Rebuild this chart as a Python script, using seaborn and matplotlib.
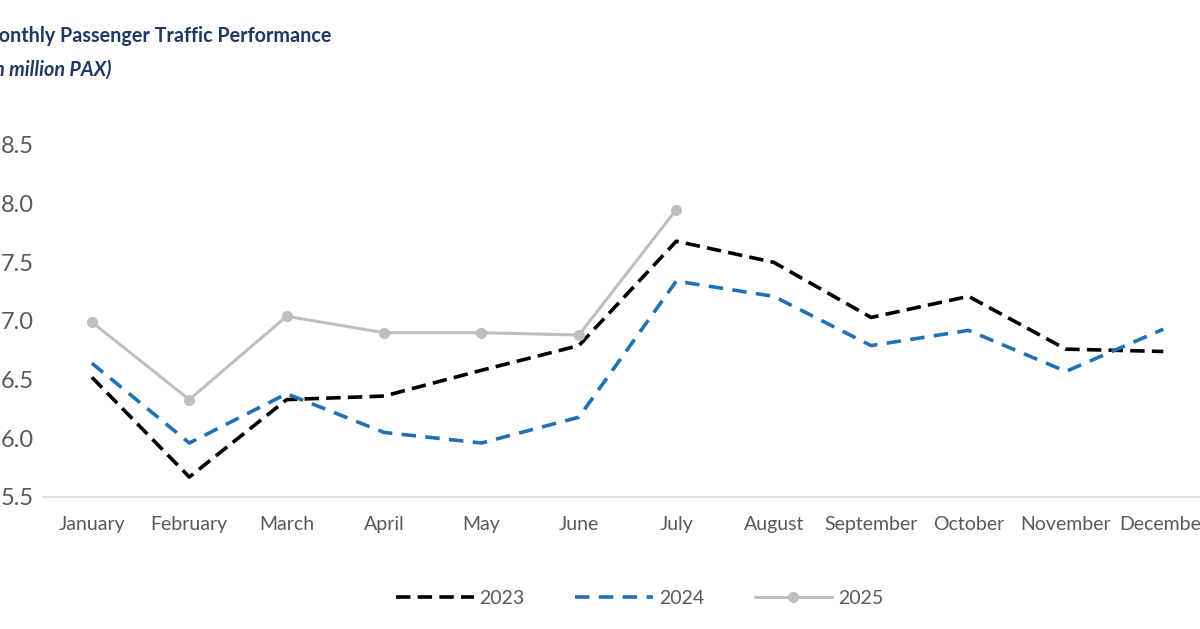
import numpy as np
import pandas as pd
import matplotlib
matplotlib.use("Agg")
import matplotlib.pyplot as plt
import seaborn as sns

# monthly passenger traffic, million PAX
months = ["January", "February", "March", "April", "May", "June",
          "July", "August", "September", "October", "November", "December"]
pax_2023 = [6.52, 5.67, 6.33, 6.36, 6.58, 6.79, 7.68, 7.50, 7.03, 7.21, 6.76, 6.74]
pax_2024 = [6.64, 5.96, 6.38, 6.05, 5.96, 6.18, 7.34, 7.21, 6.79, 6.92, 6.57, 6.93]
pax_2025 = [6.99, 6.33, 7.04, 6.90, 6.90, 6.88, 7.95]
y_ticks = [5.5, 6.0, 6.5, 7.0, 7.5, 8.0, 8.5]

sns.set_theme(style="white")
plt.rcParams['font.family'] = ['Lato', 'DejaVu Sans']

fig = plt.figure(figsize=(12, 6.29), dpi=100)
# axes is wider than the figure on the right, like the cropped screenshot
ax = fig.add_axes([0.036, 0.2099, 0.974, 0.5596])

df23 = pd.DataFrame({"month": months, "pax": pax_2023})
df24 = pd.DataFrame({"month": months, "pax": pax_2024})
df25 = pd.DataFrame({"month": months[:len(pax_2025)], "pax": pax_2025})

sns.lineplot(data=df23, x="month", y="pax", ax=ax, color="black",
             linewidth=2.6, label="2023", sort=False)
sns.lineplot(data=df24, x="month", y="pax", ax=ax, color="#2371B5",
             linewidth=2.6, label="2024", sort=False)
sns.lineplot(data=df25, x="month", y="pax", ax=ax, color="#BFBFBF",
             linewidth=2.2, marker="o", markersize=8, markeredgewidth=0,
             label="2025", sort=False)

lines = ax.get_lines()
lines[0].set_dashes((4, 2))
lines[1].set_dashes((4, 2.6))

ax.set_xlim(-0.5, 11.5)
ax.set_ylim(5.5, 8.5)
ax.set_yticks(y_ticks)
ax.set_yticklabels([f"{v:.1f}" for v in y_ticks])
ax.set_xlabel("")
ax.set_ylabel("")

for s in ["top", "right", "left"]:
    ax.spines[s].set_visible(False)
ax.spines["bottom"].set_color("#D9D9D9")
ax.spines["bottom"].set_linewidth(1.2)
ax.tick_params(axis="both", length=0, colors="#595959")
ax.tick_params(axis="x", pad=14, labelsize=14)
ax.tick_params(axis="y", pad=7, labelsize=17)

# title, partly cut off at the left edge
fig.text(-0.0165, 0.943, "Monthly Passenger Traffic Performance", fontsize=14.2,
         fontweight="bold", color="#1F3864", ha="left", va="center")
fig.text(-0.013, 0.889, "(in million PAX)", fontsize=14.2, fontweight="bold",
         fontstyle="italic", color="#1F3864", ha="left", va="center")

leg = fig.legend(handles=lines[:3], labels=["2023", "2024", "2025"],
                 loc="center", bbox_to_anchor=(0.533, 0.049),
                 ncol=3, frameon=False, handlelength=4.0, columnspacing=2.6,
                 handletextpad=0.3, fontsize=14)
ax.get_legend().remove()
for t in leg.get_texts():
    t.set_color("#595959")

fig.savefig("out.png", dpi=100)
